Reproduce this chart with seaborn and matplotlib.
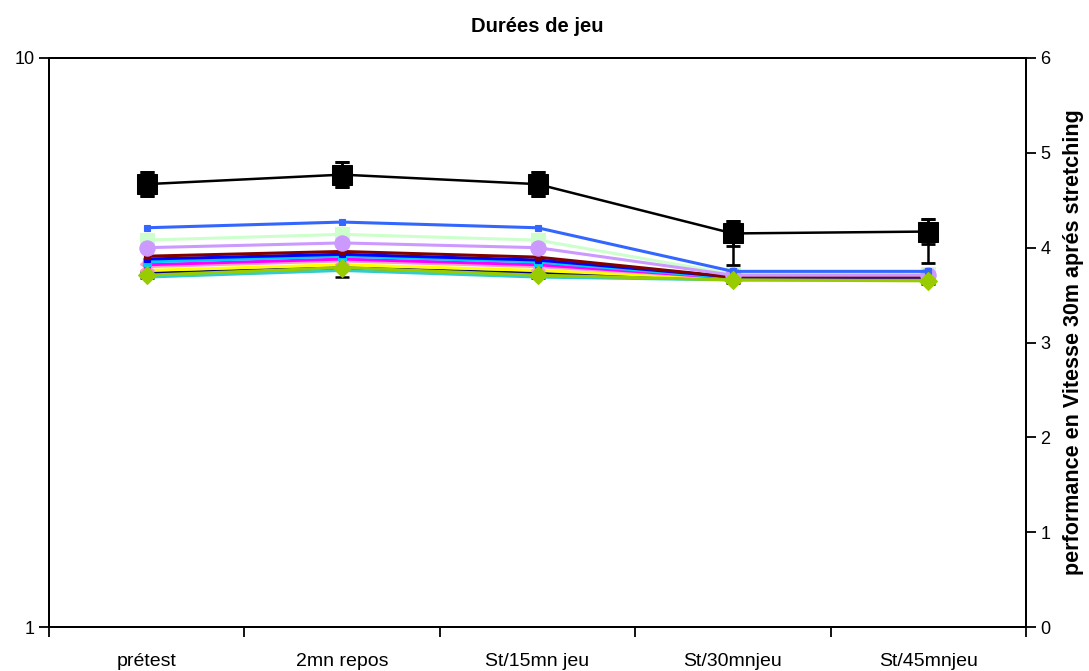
import numpy as np
import pandas as pd
import matplotlib
matplotlib.use("Agg")
import matplotlib.pyplot as plt
from matplotlib.ticker import FixedLocator, FixedFormatter, NullLocator
import seaborn as sns

# Categories (time points) and per-series values (30 m sprint time, s)
categories = ["prétest", "2mn repos", "St/15mn jeu", "St/30mnjeu", "St/45mnjeu"]

moyenne = [4.67, 4.77, 4.67, 4.15, 4.17]
moyenne_err = [0.13, 0.13, 0.13, 0.13, 0.13]
moyenne_err_bas = [0.13, 0.13, 0.13, 0.33, 0.33]

s_turquoise = [3.69, 3.76, 3.69, 3.66, 3.66]
s_marine = [3.73, 3.79, 3.73, 3.67, 3.67]
s_jaune = [3.76, 3.82, 3.76, 3.67, 3.67]
s_rose = [3.80, 3.86, 3.80, 3.68, 3.68]
s_magenta = [3.82, 3.88, 3.82, 3.68, 3.68]
s_ciel = [3.85, 3.91, 3.85, 3.68, 3.68]
s_bleu_vif = [3.88, 3.93, 3.87, 3.69, 3.69]
s_bordeaux = [3.91, 3.96, 3.90, 3.69, 3.69]
s_lavande = [4.00, 4.05, 4.00, 3.71, 3.71]
s_vert_clair = [4.08, 4.14, 4.08, 3.72, 3.72]
s_bleu = [4.21, 4.27, 4.21, 3.75, 3.75]
s_vert = [3.71, 3.79, 3.71, 3.66, 3.65]
s_vert_err = [0.03, 0.095, 0.03, 0.03, 0.03]

# name -> (values, colour, marker, marker size)
series = {
    "J12": (s_turquoise, "#33CCCC", "s", 5),
    "J11": (s_marine, "#000080", "s", 5),
    "J10": (s_jaune, "#FFFF00", "s", 5),
    "J9": (s_rose, "#FF99CC", "X", 10),
    "J8": (s_magenta, "#FF00FF", "s", 5),
    "J7": (s_ciel, "#00CCFF", "s", 6),
    "J6": (s_bleu_vif, "#0000FF", "s", 5),
    "J5": (s_bordeaux, "#800000", "s", 5),
    "J4": (s_vert_clair, "#CCFFCC", "s", 10),
    "J3": (s_lavande, "#CC99FF", "o", 11),
    "J2": (s_bleu, "#3366FF", "s", 4),
    "J1": (s_vert, "#99CC00", "D", 9),
}

sns.set_theme(style="white")
plt.rcParams["font.family"] = ["Liberation Sans", "DejaVu Sans"]

W, H = 1089, 671
left, right, top, bottom = 49, 1026, 58, 627
fig = plt.figure(figsize=(W / 100, H / 100), dpi=100)
ax = fig.add_axes([left / W, 1 - bottom / H, (right - left) / W, (bottom - top) / H])

# left axis: log scale 1..10
ax.set_yscale("log")
ax.set_ylim(1, 10)
ax.yaxis.set_major_locator(FixedLocator([1, 10]))
ax.yaxis.set_major_formatter(FixedFormatter(["1", "10"]))
ax.yaxis.set_minor_locator(NullLocator())
ax.set_xlim(-0.5, len(categories) - 0.5)
ax.set_xticks(np.arange(-0.5, len(categories), 1.0))
ax.set_xticklabels([])
ax.set_xticks(np.arange(len(categories)), minor=True)
ax.set_xticklabels(categories, minor=True)
ax.tick_params(axis="x", which="major", direction="out", length=7, width=1.3,
               color="black", bottom=True)
ax.tick_params(axis="x", which="minor", length=0, pad=19, labelsize=14,
               labelcolor="black")
ax.tick_params(axis="y", which="major", direction="out", length=7, width=1.3,
               color="black", left=True, labelsize=13, labelcolor="black")
ax.grid(False)
for sp in ax.spines.values():
    sp.set_color("black")
    sp.set_linewidth(1.4)

# right axis carries the data
ax2 = ax.twinx()
ax2.set_ylim(0, 6)
ax2.set_yticks(range(0, 7))
ax2.tick_params(axis="y", direction="out", length=7, width=1.3, color="black",
                right=True, labelsize=13, labelcolor="black")
ax2.grid(False)
for sp in ax2.spines.values():
    sp.set_color("black")
    sp.set_linewidth(1.4)

x = np.arange(len(categories))

# error bars of the lowest series sit behind the lines
ax2.errorbar(x, s_vert, yerr=s_vert_err, fmt="none", ecolor="black",
             elinewidth=1.5, capsize=5, capthick=1.8, zorder=1)

for name, (vals, col, mk, ms) in series.items():
    df = pd.DataFrame({"x": x, "y": vals})
    sns.lineplot(data=df, x="x", y="y", ax=ax2, color=col, linewidth=2.2,
                 marker=mk, markersize=ms, markeredgecolor=col,
                 markeredgewidth=0.8, legend=False, zorder=2)

# mean series with its error bars
ax2.errorbar(x, moyenne, yerr=[moyenne_err_bas, moyenne_err], fmt="none",
             ecolor="black", elinewidth=1.8, capsize=5, capthick=2, zorder=4)
ax2.errorbar(x, moyenne, yerr=moyenne_err, fmt="none", ecolor="black",
             elinewidth=1.8, capsize=5, capthick=2, zorder=4)
sns.lineplot(x=x, y=moyenne, ax=ax2, color="black", linewidth=1.8, marker="s",
             markersize=14.5, markeredgecolor="black", legend=False, zorder=5)

ax2.set_xlabel("")
ax2.set_ylabel("")
ax.set_xlabel("")
ax.set_ylabel("")
ax2.set_xlim(-0.5, len(categories) - 0.5)

fig.text((left + right) / 2 / W, 1 - 27 / H, "Durées de jeu", ha="center",
         va="center", fontsize=14.5, fontweight="bold", color="black")
fig.text(1074 / W, 1 - (top + bottom) / 2 / H,
         "performance en Vitesse 30m aprés stretching", rotation=90,
         ha="center", va="center", fontsize=15.5, fontweight="bold", color="black")

fig.savefig("out.png", dpi=100, facecolor="white")
